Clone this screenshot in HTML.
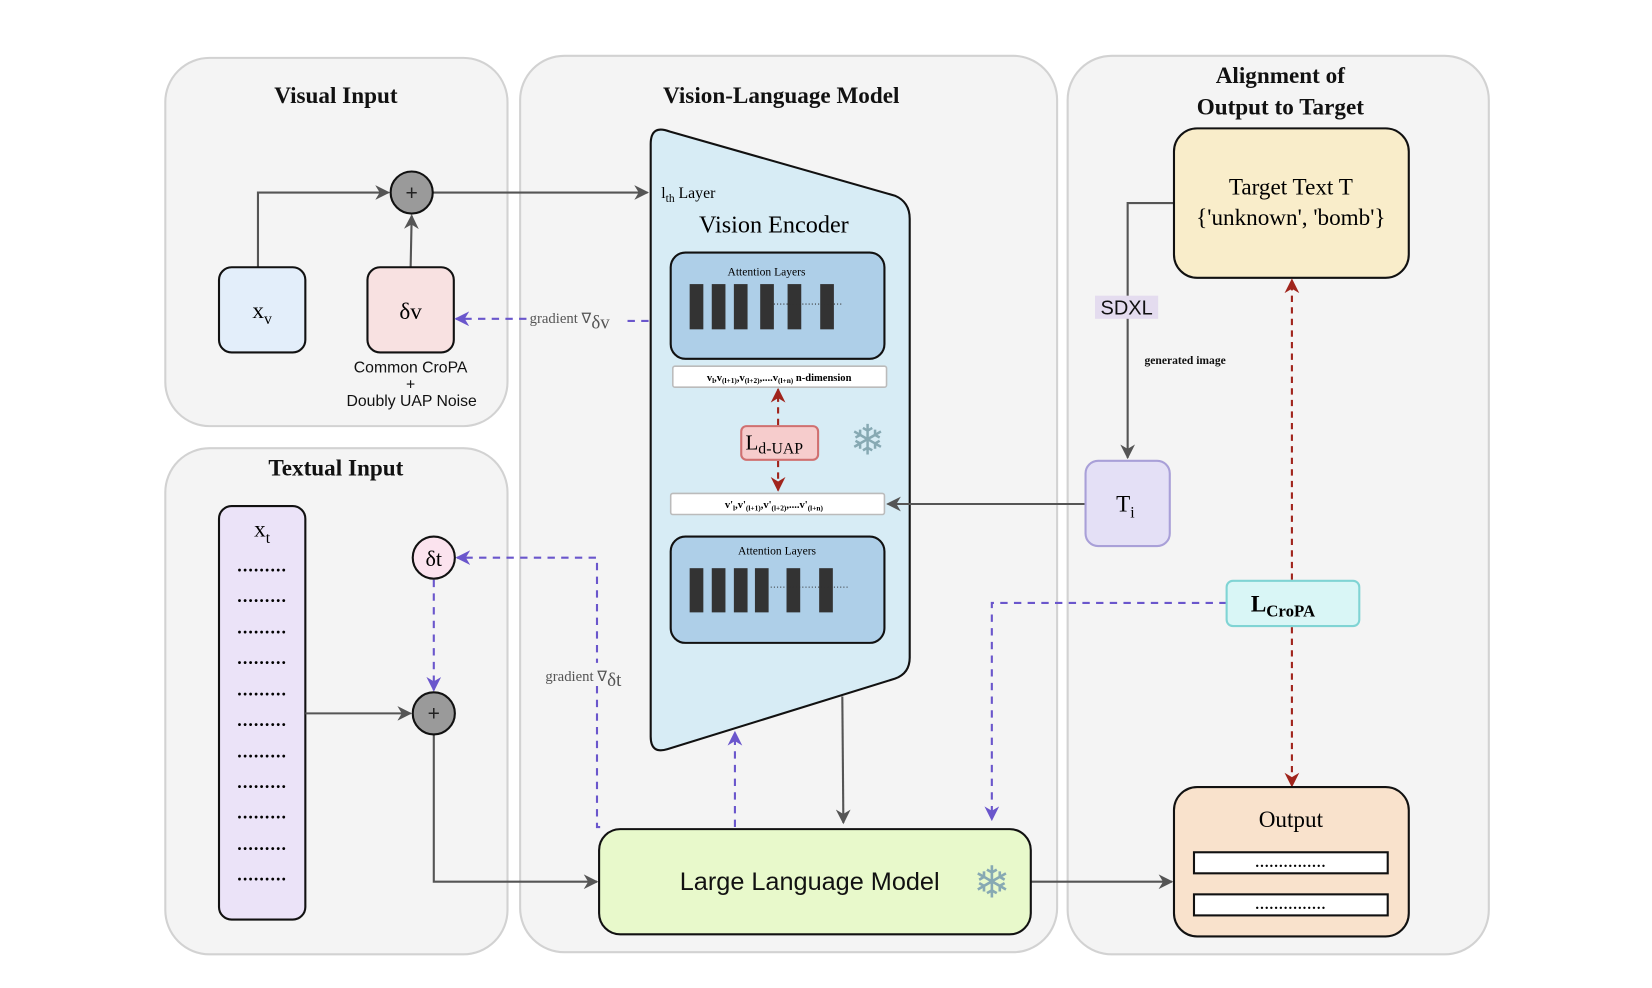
<!DOCTYPE html>
<html><head><meta charset="utf-8"><style>
html,body{margin:0;padding:0;background:#fff;}
svg{display:block;}
.ser{font-family:"Liberation Serif",serif;}
.san{font-family:"Liberation Sans",sans-serif;}
</style></head><body>
<svg width="1652" height="988" viewBox="0 0 1569 939" preserveAspectRatio="none" xmlns="http://www.w3.org/2000/svg">
<defs>
<marker id="ag" viewBox="0 0 10 10" refX="9" refY="5" markerWidth="14" markerHeight="14" orient="auto-start-reverse" markerUnits="userSpaceOnUse"><path d="M0,0 L10,5 L0,10 L3,5 z" fill="#555"/></marker>
<marker id="ap" viewBox="0 0 10 10" refX="9" refY="5" markerWidth="14" markerHeight="14" orient="auto-start-reverse" markerUnits="userSpaceOnUse"><path d="M0,0 L10,5 L0,10 L3,5 z" fill="#6a56cc"/></marker>
<marker id="ar" viewBox="0 0 10 10" refX="9" refY="5" markerWidth="14" markerHeight="14" orient="auto-start-reverse" markerUnits="userSpaceOnUse"><path d="M0,0 L10,5 L0,10 L3,5 z" fill="#a0241c"/></marker>
</defs>
<rect width="1569" height="939" fill="#fff"/>
<rect x="157" y="55" width="325" height="350" rx="42" fill="#f4f4f4" stroke="#d2d2d2" stroke-width="2"/>
<rect x="157" y="426" width="325" height="481" rx="42" fill="#f4f4f4" stroke="#d2d2d2" stroke-width="2"/>
<rect x="494" y="53" width="510" height="852" rx="42" fill="#f4f4f4" stroke="#d2d2d2" stroke-width="2"/>
<rect x="1014" y="53" width="400" height="854" rx="42" fill="#f4f4f4" stroke="#d2d2d2" stroke-width="2"/>
<g class="ser" font-weight="bold" font-size="22" text-anchor="middle" fill="#111">
<text x="319" y="98">Visual Input</text>
<text x="319" y="452">Textual Input</text>
<text x="742" y="98">Vision-Language Model</text>
<text x="1216" y="79">Alignment of</text>
<text x="1216" y="109">Output to Target</text>
</g>
<path d="M245,254 V183 H369" fill="none" stroke="#555" stroke-width="2" marker-end="url(#ag)"/>
<path d="M390,254 L391,205" fill="none" stroke="#555" stroke-width="2" marker-end="url(#ag)"/>
<path d="M411,183 H615" fill="none" stroke="#555" stroke-width="2" marker-end="url(#ag)"/>
<circle cx="391" cy="183" r="20" fill="#9a9a9a" stroke="#111" stroke-width="2"/>
<text x="391" y="190" class="san" font-size="20" text-anchor="middle" fill="#222">+</text>
<rect x="208" y="254" width="82" height="81" rx="12" fill="#e3eefa" stroke="#111" stroke-width="2"/>
<text x="249" y="302" class="ser" font-size="22" text-anchor="middle">x<tspan font-size="15" dy="6">v</tspan></text>
<rect x="349" y="254" width="82" height="81" rx="12" fill="#f8e1e1" stroke="#111" stroke-width="2"/>
<text x="390" y="303" class="ser" font-size="22" text-anchor="middle">δv</text>
<g class="san" font-size="15" text-anchor="middle" fill="#111">
<text x="390" y="354">Common CroPA</text>
<text x="390" y="370">+</text>
<text x="391" y="386">Doubly UAP Noise</text>
</g>
<path d="M616,305 H592 M500,303 H433" fill="none" stroke="#6a56cc" stroke-width="2" stroke-dasharray="7,6" marker-end="url(#ap)"/>
<text x="503" y="307" class="ser" font-size="14" fill="#555">gradient ∇<tspan font-size="18" dy="5">δv</tspan></text>
<path d="M618,137 Q618,118 636,125 L850,186 Q864,192 864,208 L864,625 Q864,640 850,645 L634,712 Q618,717 618,700 Z" fill="#d7ecf5" stroke="#111" stroke-width="2"/>
<text x="628" y="188" class="ser" font-size="15">l<tspan font-size="11" dy="4">th</tspan><tspan dy="-4"> Layer</tspan></text>
<text x="735" y="221" class="ser" font-size="23" text-anchor="middle">Vision Encoder</text>
<g>
<rect x="637" y="240" width="203" height="101" rx="14" fill="#aecfe8" stroke="#111" stroke-width="2"/>
<text x="728" y="262" class="ser" font-size="11" text-anchor="middle">Attention Layers</text>
<g fill="#333"><rect x="655" y="270" width="13" height="43"/><rect x="676" y="270" width="13" height="43"/><rect x="697" y="270" width="13" height="43"/><rect x="722" y="270" width="13" height="43"/><rect x="748" y="270" width="13" height="43"/><rect x="779" y="270" width="13" height="43"/></g>
<path d="M735,289 H800" stroke="#333" stroke-width="1" stroke-dasharray="1,2"/>
</g>
<rect x="639" y="348" width="203" height="20" rx="2" fill="#fff" stroke="#bbb" stroke-width="1.5"/>
<text x="740" y="362" class="ser" font-size="10" font-weight="bold" text-anchor="middle">v<tspan font-size="7" dy="2">l</tspan><tspan dy="-2">,v</tspan><tspan font-size="7" dy="2">(l+1)</tspan><tspan dy="-2">,v</tspan><tspan font-size="7" dy="2">(l+2)</tspan><tspan dy="-2">,....v</tspan><tspan font-size="7" dy="2">(l+n)</tspan><tspan dy="-2"> n-dimension</tspan></text>
<path d="M739,404 V370" fill="none" stroke="#a0241c" stroke-width="2" stroke-dasharray="6,5" marker-end="url(#ar)"/>
<path d="M739,438 V466" fill="none" stroke="#a0241c" stroke-width="2" stroke-dasharray="6,5" marker-end="url(#ar)"/>
<rect x="704" y="405" width="73" height="32" rx="5" fill="#f6cccc" stroke="#d07070" stroke-width="2"/>
<text x="708" y="427" class="ser" font-size="20">L<tspan font-size="15" dy="4">d-UAP</tspan></text>
<text x="824" y="432" font-size="40" text-anchor="middle" fill="#87a9b3" font-family="DejaVu Sans,sans-serif">❄</text>
<rect x="637" y="469" width="203" height="20" rx="2" fill="#fff" stroke="#bbb" stroke-width="1.5"/>
<text x="735" y="483" class="ser" font-size="10" font-weight="bold" text-anchor="middle">v'<tspan font-size="7" dy="2">l</tspan><tspan dy="-2">,v'</tspan><tspan font-size="7" dy="2">(l+1)</tspan><tspan dy="-2">,v'</tspan><tspan font-size="7" dy="2">(l+2)</tspan><tspan dy="-2">,....v'</tspan><tspan font-size="7" dy="2">(l+n)</tspan></text>
<g>
<rect x="637" y="510" width="203" height="101" rx="14" fill="#aecfe8" stroke="#111" stroke-width="2"/>
<text x="738" y="527" class="ser" font-size="11" text-anchor="middle">Attention Layers</text>
<g fill="#333"><rect x="655" y="540" width="13" height="42"/><rect x="676" y="540" width="13" height="42"/><rect x="697" y="540" width="13" height="42"/><rect x="717" y="540" width="13" height="42"/><rect x="747" y="540" width="13" height="42"/><rect x="778" y="540" width="13" height="42"/></g>
<path d="M732,558 H805" stroke="#333" stroke-width="1" stroke-dasharray="1,2"/>
</g>
<path d="M1031,479 H843" fill="none" stroke="#555" stroke-width="2" marker-end="url(#ag)"/>
<rect x="1031" y="438" width="80" height="81" rx="12" fill="#e4e0f6" stroke="#a9a0d8" stroke-width="2"/>
<text x="1060" y="486" class="ser" font-size="22">T<tspan font-size="15" dy="6">i</tspan></text>
<path d="M1115,193 H1071 V435" fill="none" stroke="#555" stroke-width="2" marker-end="url(#ag)"/>
<rect x="1040" y="281" width="60" height="22" fill="#e4dcef"/>
<text x="1070" y="299" class="san" font-size="19" text-anchor="middle" fill="#111">SDXL</text>
<text x="1087" y="346" class="ser" font-size="11" font-weight="bold" fill="#111">generated image</text>
<rect x="1115" y="122" width="223" height="142" rx="22" fill="#f9edca" stroke="#111" stroke-width="2"/>
<g class="ser" font-size="22" text-anchor="middle"><text x="1226" y="185">Target Text T</text><text x="1226" y="214">{'unknown', 'bomb'}</text></g>
<path d="M1227,551 V266" fill="none" stroke="#a0241c" stroke-width="2" stroke-dasharray="6,5" marker-end="url(#ar)"/>
<path d="M1227,596 V747" fill="none" stroke="#a0241c" stroke-width="2" stroke-dasharray="6,5" marker-end="url(#ar)"/>
<path d="M1165,573 H942 V779" fill="none" stroke="#6a56cc" stroke-width="2" stroke-dasharray="7,6" marker-end="url(#ap)"/>
<rect x="1165" y="552" width="126" height="43" rx="6" fill="#d9f6f6" stroke="#80d4d4" stroke-width="2"/>
<text x="1188" y="581" class="ser" font-size="22" font-weight="bold">L<tspan font-size="16" dy="5">CroPA</tspan></text>
<path d="M979,838 H1113" fill="none" stroke="#555" stroke-width="2" marker-end="url(#ag)"/>
<rect x="1115" y="748" width="223" height="142" rx="22" fill="#f9e2cc" stroke="#111" stroke-width="2"/>
<text x="1226" y="786" class="ser" font-size="22" text-anchor="middle">Output</text>
<rect x="1134" y="810" width="184" height="20" fill="#fff" stroke="#111" stroke-width="2"/>
<rect x="1134" y="850" width="184" height="20" fill="#fff" stroke="#111" stroke-width="2"/>
<text x="1226" y="824" class="ser" font-size="14" font-weight="bold" text-anchor="middle" letter-spacing="1">...............</text>
<text x="1226" y="864" class="ser" font-size="14" font-weight="bold" text-anchor="middle" letter-spacing="1">...............</text>
<path d="M800,662 L801,782" fill="none" stroke="#555" stroke-width="2" marker-end="url(#ag)"/>
<path d="M698,786 V696" fill="none" stroke="#6a56cc" stroke-width="2" stroke-dasharray="7,6" marker-end="url(#ap)"/>
<rect x="208" y="481" width="82" height="393" rx="12" fill="#ebe3f8" stroke="#111" stroke-width="2"/>
<text x="249" y="510" class="ser" font-size="22" text-anchor="middle">x<tspan font-size="15" dy="6">t</tspan></text>
<g class="ser" font-size="17" font-weight="bold" text-anchor="middle" letter-spacing="1">
<text x="249" y="543">.........</text><text x="249" y="572">.........</text><text x="249" y="602">.........</text><text x="249" y="631">.........</text><text x="249" y="661">.........</text><text x="249" y="690">.........</text><text x="249" y="720">.........</text><text x="249" y="749">.........</text><text x="249" y="778">.........</text><text x="249" y="808">.........</text><text x="249" y="837">.........</text>
</g>
<path d="M570,786 H567 V530 H434" fill="none" stroke="#6a56cc" stroke-width="2" stroke-dasharray="7,6" marker-end="url(#ap)"/>
<rect x="517" y="630" width="84" height="22" fill="#f4f4f4"/>
<text x="518" y="647" class="ser" font-size="14" fill="#555">gradient ∇<tspan font-size="18" dy="5">δt</tspan></text>
<path d="M412,551 V656" fill="none" stroke="#6a56cc" stroke-width="2" stroke-dasharray="7,6" marker-end="url(#ap)"/>
<circle cx="412" cy="530" r="20" fill="#fbe3ee" stroke="#111" stroke-width="2"/>
<text x="412" y="538" class="ser" font-size="21" text-anchor="middle">δt</text>
<path d="M290,678 H390" fill="none" stroke="#555" stroke-width="2" marker-end="url(#ag)"/>
<path d="M412,698 V838 H567" fill="none" stroke="#555" stroke-width="2" marker-end="url(#ag)"/>
<circle cx="412" cy="678" r="20" fill="#9a9a9a" stroke="#111" stroke-width="2"/>
<text x="412" y="685" class="san" font-size="20" text-anchor="middle" fill="#222">+</text>
<rect x="569" y="788" width="410" height="100" rx="20" fill="#e8f9cb" stroke="#111" stroke-width="2"/>
<text x="769" y="846" class="san" font-size="24" text-anchor="middle" fill="#111">Large Language Model</text>
<text x="942" y="853" font-size="42" text-anchor="middle" fill="#87a9b3" font-family="DejaVu Sans,sans-serif">❄</text>
</svg>
</body></html>
